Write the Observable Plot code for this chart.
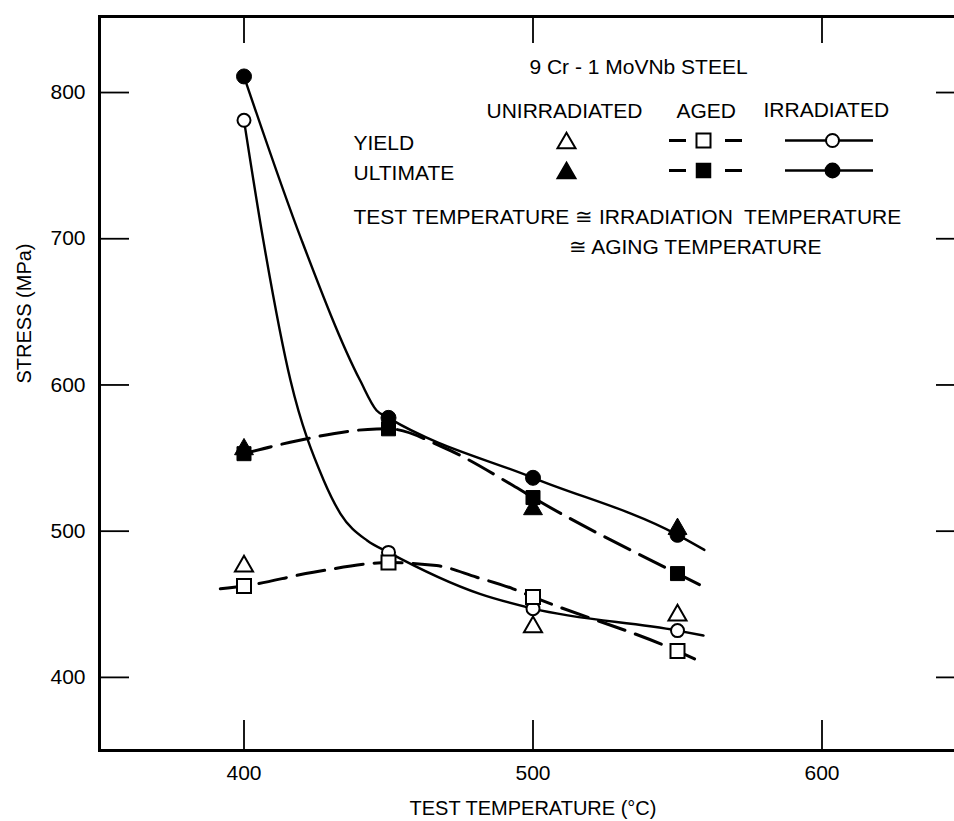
<!DOCTYPE html>
<html><head><meta charset="utf-8">
<style>
html,body{margin:0;padding:0;background:#fff;overflow:hidden;}
svg{max-width:none !important;}
</style>
<script src="https://cdn.jsdelivr.net/npm/d3@7"></script>
<script src="https://cdn.jsdelivr.net/npm/@observablehq/plot@0.6"></script>
</head><body><div id="chart"></div>
<script>
// ---------- data ----------
const temps = [400, 450, 500, 550];
const unirrYield = [476, null, 434.5, 442.5];
const unirrUlt   = [556, null, 515, 501.5];
const agedYield  = [462.5, 478.5, 455, 418];
const agedUlt    = [553, 570, 523, 471];
const irrYield   = [781, 485.5, 447, 432];
const irrUlt     = [811, 577.5, 536.5, 497.5];

// curve traces (temperature °C, stress MPa)
const agedYieldCurveT = [391.8, 400, 424, 450, 466.6, 480.5, 493.1, 500, 550, 555.9];
const agedYieldCurveS = [460.6, 462.5, 471.9, 478.5, 476.5, 468.5, 460.6, 455, 418, 412.7];
const agedUltCurveT   = [400, 416, 445.9, 450, 468.9, 493.1, 500, 550, 559.9];
const agedUltCurveS   = [553, 560.8, 569.9, 570, 557.4, 531.2, 523, 471, 461.2];
const irrYieldCurveT  = [400, 406.7, 416.1, 427.6, 433.4, 442.6, 450, 481.6, 500, 550, 559];
const irrYieldCurveS  = [781, 698.7, 603, 534.7, 511.9, 493.6, 485.5, 457.1, 447, 432, 428.6];
const irrUltCurveT    = [400, 420, 440.2, 445.9, 450, 500, 550, 559.3];
const irrUltCurveS    = [811, 698.7, 603, 582.5, 577.5, 536.5, 497.5, 487.2];

// axes
const xTicks = [400, 500, 600];
const yTicks = [400, 500, 600, 700, 800];
const xLabel = "TEST TEMPERATURE (°C)";
const yLabel = "STRESS (MPa)";

// legend text
const legendTitle = "9 Cr - 1 MoVNb STEEL";
const legendCols = ["UNIRRADIATED", "AGED", "IRRADIATED"];
const legendRows = ["YIELD", "ULTIMATE"];
const noteLines = ["TEST TEMPERATURE \u2245 IRRADIATION  TEMPERATURE", "\u2245 AGING TEMPERATURE"];

// ---------- layout ----------
const W = 966, H = 821, ML = 99, MT = 16, MB = 71, MR = 0;
const X0 = 350, X1 = 650, Y0 = 350, Y1 = 852;
const fw = W - ML - MR, fh = H - MT - MB;
const ix = px => X0 + (px - ML) / fw * (X1 - X0);
const iy = py => Y0 + (MT + fh - py) / fh * (Y1 - Y0);

const pts = (T, S) => T.map((t, i) => ({t, s: S[i]})).filter(d => d.s != null);
const solid = {x: "t", y: "s", stroke: "#000", strokeWidth: 2.4, curve: "monotone-x"};
const dashed = {x: "t", y: "s", stroke: "#000", strokeWidth: 3, strokeDasharray: "28,11", curve: "monotone-x"};

const openStyle = {x: "t", y: "s", fill: "#fff", stroke: "#000", strokeWidth: 2};
const fillStyle = {x: "t", y: "s", fill: "#000", stroke: "#000", strokeWidth: 1};

const FONT = "'Liberation Sans', Arial, Helvetica, sans-serif";
const NARROW = "'Liberation Sans Narrow', 'Arial Narrow', 'Liberation Sans', sans-serif";

// legend layout (pixel anchors inside frame)
const TL = {frameAnchor: "top-left"};
const colX = [566, 703, 832];
const rowY = [140, 170];

const legendMarks = [
  Plot.text([legendTitle], {...TL, text: d => d, dx: 638 - ML, dy: 73 - MT, textAnchor: "middle", lineAnchor: "bottom", fontFamily: NARROW, fontSize: 21}),
  Plot.text([legendCols[0]], {...TL, text: d => d, dx: 486 - ML, dy: 117 - MT, textAnchor: "start", lineAnchor: "bottom"}),
  Plot.text([legendCols[1]], {...TL, text: d => d, dx: 676 - ML, dy: 117 - MT, textAnchor: "start", lineAnchor: "bottom"}),
  Plot.text([legendCols[2]], {...TL, text: d => d, dx: 763 - ML, dy: 116 - MT, textAnchor: "start", lineAnchor: "bottom"}),
  Plot.text([legendRows[0]], {...TL, text: d => d, dx: 353 - ML, dy: 149 - MT, textAnchor: "start", lineAnchor: "bottom"}),
  Plot.text([legendRows[1]], {...TL, text: d => d, dx: 353 - ML, dy: 179 - MT, textAnchor: "start", lineAnchor: "bottom"}),
  Plot.text([noteLines[0]], {...TL, text: d => d, dx: 353 - ML, dy: 223 - MT, textAnchor: "start", lineAnchor: "bottom"}),
  Plot.text([noteLines[1]], {...TL, text: d => d, dx: 568 - ML, dy: 253 - MT, textAnchor: "start", lineAnchor: "bottom"}),
  ...rowY.flatMap(py => [
    Plot.ruleY([iy(py)], {x1: ix(669), x2: ix(686), stroke: "#000", strokeWidth: 3}),
    Plot.ruleY([iy(py)], {x1: ix(725), x2: ix(742), stroke: "#000", strokeWidth: 3}),
    Plot.ruleY([iy(py)], {x1: ix(785), x2: ix(873), stroke: "#000", strokeWidth: 2.4})
  ]),
  Plot.dot([0], {...TL, dx: colX[0] - ML, dy: rowY[0] + 2.6 - MT, symbol: "triangle", r: 6.7, fill: "#fff", stroke: "#000", strokeWidth: 2}),
  Plot.dot([0], {...TL, dx: colX[0] - ML, dy: rowY[1] + 2.6 - MT, symbol: "triangle", r: 7, fill: "#000", stroke: "#000"}),
  Plot.dot([0], {...TL, dx: colX[1] - ML, dy: rowY[0] - MT, symbol: "square", r: 7.9, fill: "#fff", stroke: "#000", strokeWidth: 2}),
  Plot.dot([0], {...TL, dx: colX[1] - ML, dy: rowY[1] - MT, symbol: "square", r: 7.9, fill: "#000", stroke: "#000"}),
  Plot.dot([0], {...TL, dx: colX[2] - ML, dy: rowY[0] - MT, r: 6.5, fill: "#fff", stroke: "#000", strokeWidth: 2}),
  Plot.dot([0], {...TL, dx: colX[2] - ML, dy: rowY[1] - MT, r: 7.2, fill: "#000", stroke: "#000"})
];

const chart = Plot.plot({
  width: W, height: H,
  marginLeft: ML, marginRight: MR, marginTop: MT, marginBottom: MB,
  x: {domain: [X0, X1]},
  y: {domain: [Y0, Y1]},
  style: {fontFamily: FONT, fontSize: "21px", color: "#000", background: "#fff", overflow: "visible", maxWidth: "none"},
  marks: [
    Plot.frame({stroke: "#000", strokeWidth: 3}),
    Plot.tickX(xTicks, {x: d => d, insetTop: fh - 30, stroke: "#000", strokeWidth: 1.8}),
    Plot.tickX(xTicks, {x: d => d, insetBottom: fh - 27, stroke: "#000", strokeWidth: 1.8}),
    Plot.tickY(yTicks, {y: d => d, insetRight: fw - 30, stroke: "#000", strokeWidth: 1.8}),
    Plot.tickY(yTicks, {y: d => d, insetLeft: fw - 30, stroke: "#000", strokeWidth: 1.8}),
    Plot.axisX({ticks: xTicks, anchor: "bottom", tickSize: 0, tickPadding: 15, label: null, fontSize: 21}),
    Plot.axisY({ticks: yTicks, anchor: "left", tickSize: 0, tickPadding: 14, label: null, fontSize: 21}),
    Plot.text([xLabel], {text: d => d, frameAnchor: "bottom", dy: 58, lineAnchor: "middle", fontSize: 20}),
    Plot.text([yLabel], {text: d => d, frameAnchor: "left", dx: -75, rotate: -90, lineAnchor: "middle", fontSize: 20}),
    Plot.line(pts(agedYieldCurveT, agedYieldCurveS), dashed),
    Plot.line(pts(agedUltCurveT, agedUltCurveS), dashed),
    Plot.line(pts(irrYieldCurveT, irrYieldCurveS), solid),
    Plot.line(pts(irrUltCurveT, irrUltCurveS), solid),
    Plot.dot(pts(temps, agedUlt), {...fillStyle, symbol: "square", r: 7.9}),
    Plot.dot(pts(temps, unirrUlt), {...fillStyle, symbol: "triangle", r: 7}),
    Plot.dot(pts(temps, irrUlt), {...fillStyle, r: 7.5}),
    Plot.dot(pts(temps, irrYield), {...openStyle, r: 6.5}),
    Plot.dot(pts(temps, agedYield), {...openStyle, symbol: "square", r: 7.9}),
    Plot.dot(pts(temps, unirrYield), {...openStyle, symbol: "triangle", r: 6.7}),
    ...legendMarks
  ]
});
document.getElementById("chart").appendChild(chart);
</script>
</body></html>
